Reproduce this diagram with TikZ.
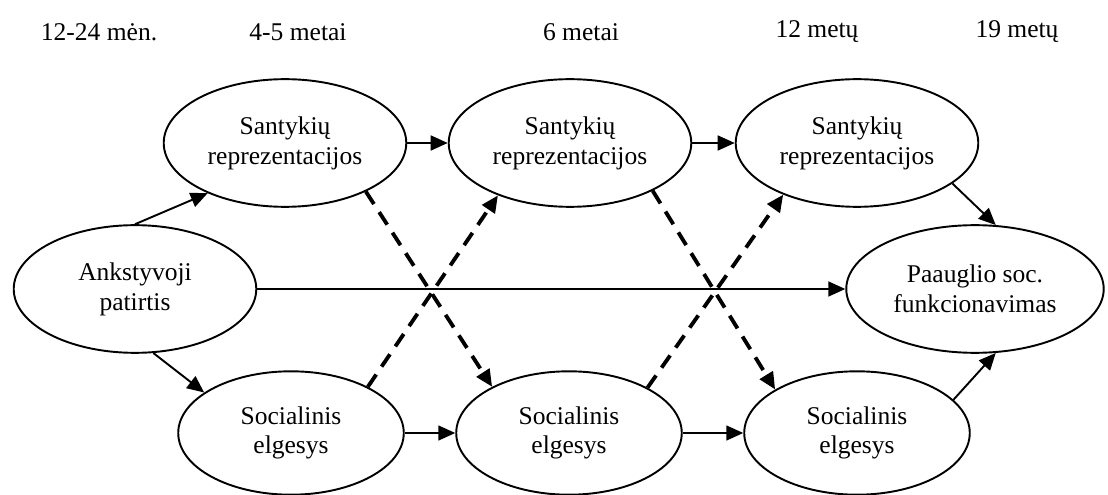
\documentclass[tikz,border=0pt]{standalone}
\usepackage{fontspec}
\setmainfont{Liberation Serif}
\usepackage{tikz}
\usetikzlibrary{shapes.geometric,arrows.meta}

\begin{document}
\begin{tikzpicture}[
        x=0.47pt, y=-0.47pt,
        stage/.style={ellipse, draw=black, line width=0.9pt, minimum width=114pt, minimum height=60pt, inner sep=0pt, align=center, font=\fontsize{12}{14}\selectfont},
        behaviour/.style={stage, minimum width=106pt, minimum height=58pt},
        outcome/.style={stage, minimum width=121pt},
        age/.style={font=\fontsize{12}{14}\selectfont},
        flow/.style={-{Triangle[length=8pt, width=7pt]}, line width=0.9pt},
        crossflow/.style={-{Triangle[length=8pt, width=7pt]}, line width=1.8pt, dash pattern=on 7pt off 4.5pt}
    ]
    \useasboundingbox (0,0) rectangle (1108,495);

    % Ages
    \node[age] (age1) at (99, 32) {12-24 mėn.};
    \node[age] (age2) at (298, 32) {4-5 metai};
    \node[age] (age3) at (581, 32) {6 metai};
    \node[age] (age4) at (817, 32) {12 metų};
    \node[age] (age5) at (1017, 32) {19 metų};

    % Stages
    \node[stage] (early) at (135, 289) {Ankstyvoji\\ patirtis};
    \node[stage] (rep1) at (285, 143) {Santykių\\ reprezentacijos};
    \node[stage] (rep2) at (570, 143) {Santykių\\ reprezentacijos};
    \node[stage] (rep3) at (857, 143) {Santykių\\ reprezentacijos};
    \node[behaviour] (soc1) at (291, 433) {Socialinis\\ elgesys};
    \node[behaviour] (soc2) at (569, 433) {Socialinis\\ elgesys};
    \node[behaviour] (soc3) at (857, 433) {Socialinis\\ elgesys};
    \node[outcome] (teen) at (975, 289) {Paauglio soc.\\ funkcionavimas};

    % Solid paths
    \draw[flow] (early.north) -- (rep1.213);
    \draw[flow] (early.-74) -- (soc1.155);
    \draw[flow] (early) -- (teen);
    \draw[flow] (rep1) -- (rep2);
    \draw[flow] (rep2) -- (rep3);
    \draw[flow] (soc1) -- (soc2);
    \draw[flow] (soc2) -- (soc3);
    \draw[flow] (rep3.-23) -- (teen.72);
    \draw[flow] (soc3.19) -- (teen.-72);

    % Cross-lagged paths
    \draw[crossflow] (rep1.-31) -- (soc2.149);
    \draw[crossflow] (soc1.31) -- (rep2.-144);
    \draw[crossflow] (rep2.-30) -- (soc3.152);
    \draw[crossflow] (soc2.30) -- (rep3.-145);

\end{tikzpicture}
\end{document}
